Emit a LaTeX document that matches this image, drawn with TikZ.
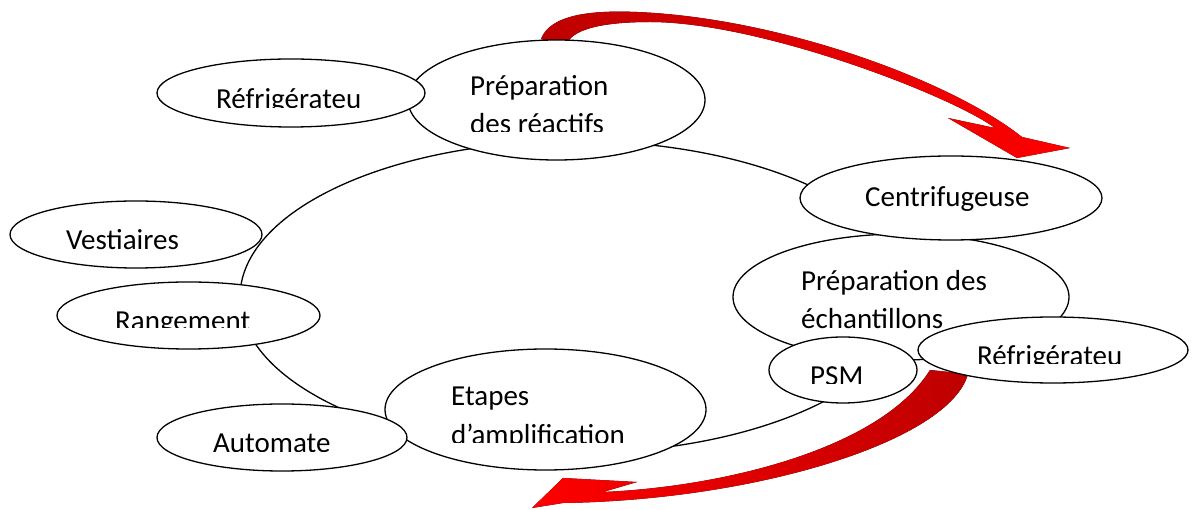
\documentclass[tikz,border=0pt]{standalone}
\usepackage{fontspec}
\setmainfont{Carlito}
\usetikzlibrary{shapes.geometric}
\definecolor{arrowred}{RGB}{255,0,0}
\definecolor{arrowdark}{RGB}{190,0,0}
\newcommand{\bubblefont}{\fontsize{29}{38}\selectfont}
\tikzset{
  bubble/.style={draw, ellipse, fill=white, line width=1.3pt, inner sep=0pt},
  ringline/.style={draw, ellipse, line width=1.3pt, inner sep=0pt},
  lbl/.style={anchor=base west, inner sep=0pt, font=\bubblefont},
}
\begin{document}
\begin{tikzpicture}[x=1pt, y=-1pt]
  \useasboundingbox (0,0) rectangle (1195,510);

  % big loop behind everything
  \node[ringline, minimum width=670, minimum height=312] (ring) at (575,297) {};

  % curved arrows
  \fill[shading=axis, left color=arrowdark, middle color=arrowred, right color=arrowred]
    (541,39) .. controls (550,15) and (590,10) .. (637,12)
    .. controls (780,18) and (950,80) .. (1022,137)
    -- (1070,148) -- (1017,158) -- (948,118) -- (995,128)
    .. controls (950,95) and (760,22) .. (650,22)
    .. controls (600,22) and (570,30) .. (566,46) -- cycle;
  \fill[shading=axis, left color=arrowred, middle color=arrowred, right color=arrowdark]
    (930,370) .. controls (880,450) and (720,487) .. (603,492)
    -- (637,482) -- (563,478) -- (532,508) -- (563,503)
    .. controls (760,500) and (950,440) .. (968,374) -- cycle;

  % Preparation des reactifs
  \node[bubble, minimum width=297, minimum height=120] (prepreac) at (556.5,100) {};
  \node[lbl] (prepreac-l1) at (470,96) {Préparation};
  \begin{scope}
    \clip (400,100) rectangle (720,132);
    \node[lbl] (prepreac-l2) at (470,134) {des réactifs};
  \end{scope}

  % Refrigerateur (haut)
  \node[bubble, minimum width=268, minimum height=68] (frigoa) at (291,93) {};
  \begin{scope}
    \clip (160,70) rectangle (420,107.3);
    \node[lbl] (frigoa-txt) at (216,108.7) {Réfrigérateu};
  \end{scope}

  % Vestiaires
  \node[bubble, minimum width=252, minimum height=67] (vestiaires) at (136,234.5) {};
  \node[lbl] (vestiaires-txt) at (66,250) {Vestiaires};

  % Rangement
  \node[bubble, minimum width=263, minimum height=67] (rangement) at (188.5,315.5) {};
  \begin{scope}
    \clip (60,290) rectangle (320,328);
    \node[lbl] (rangement-txt) at (115,330.5) {Rangement};
  \end{scope}

  % Etapes d'amplification
  \node[bubble, minimum width=321, minimum height=121] (etapes) at (545.5,409.5) {};
  \node[lbl] (etapes-l1) at (451,405.7) {Etapes};
  \begin{scope}
    \clip (400,410) rectangle (700,443);
    \node[lbl] (etapes-l2) at (451,444.5) {d’amplification};
  \end{scope}

  % Automate
  \node[bubble, minimum width=250, minimum height=67] (automate) at (282,437.5) {};
  \begin{scope}
    \clip (160,410) rectangle (405,451.7);
    \node[lbl] (automate-txt) at (213,452.5) {Automate};
  \end{scope}

  % Preparation des echantillons
  \node[bubble, minimum width=336, minimum height=126] (prepech) at (901,297) {};
  \node[lbl] (prepech-l1) at (801,291) {Préparation des};
  \node[lbl] (prepech-l2) at (801,329) {échantillons};

  % Centrifugeuse
  \node[bubble, minimum width=302, minimum height=84] (centri) at (951,198) {};
  \node[lbl] (centri-txt) at (865,207) {Centrifugeuse};

  % PSM
  \node[bubble, minimum width=148, minimum height=66] (psm) at (843,370) {};
  \begin{scope}
    \clip (780,350) rectangle (910,384);
    \node[lbl] (psm-txt) at (810,385.5) {PSM};
  \end{scope}

  % Refrigerateur (bas)
  \node[bubble, minimum width=270, minimum height=66] (frigob) at (1053,350) {};
  \begin{scope}
    \clip (930,325) rectangle (1180,363.3);
    \node[lbl] (frigob-txt) at (977,365.7) {Réfrigérateu};
  \end{scope}
\end{tikzpicture}
\end{document}
